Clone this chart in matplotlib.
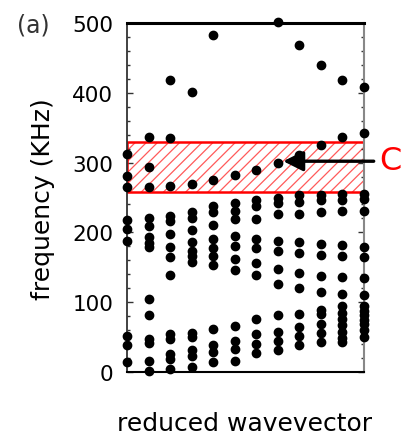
# -*- coding: utf-8 -*-
"""
band diagram, panel (a): frequency vs reduced wavevector with the gap C
"""
import matplotlib as mpl
mpl.use('Agg')
import matplotlib.pyplot as plt
from matplotlib.patches import Rectangle

# reduced wavevector index (12 points across the zone)
wavevector = list(range(12))

f_k0 = [312, 281, 265, 218, 205, 187, 52, 38, 15]
f_k1 = [337, 294, 265, 220, 209, 193, 185, 179, 105, 82, 48, 42, 16, 2]
f_k2 = [419, 335, 267, 224, 217, 198, 179, 165, 139, 54, 48, 26, 19, 5]
f_k3 = [401, 269, 229, 220, 204, 186, 174, 166, 158, 56, 50, 32, 23, 7]
f_k4 = [483, 275, 238, 229, 211, 191, 178, 166, 153, 62, 38, 28, 14]
f_k5 = [282, 242, 231, 219, 195, 181, 162, 146, 66, 44, 33, 16]
f_k6 = [290, 246, 238, 219, 191, 177, 156, 139, 76, 55, 40, 27]
f_k7 = [501, 299, 250, 242, 226, 187, 173, 148, 126, 81, 58, 45, 31]
f_k8 = [468, 311, 254, 244, 227, 186, 171, 142, 120, 83, 64, 51, 38]
f_k9 = [440, 325, 254, 246, 229, 184, 168, 137, 115, 89, 83, 69, 56, 43]
f_k10 = [418, 337, 255, 246, 230, 182, 166, 136, 112, 94, 85, 76, 67, 57, 49, 43]
f_k11 = [409, 343, 255, 248, 230, 179, 165, 135, 110, 95, 88, 81, 74, 69, 60, 50]
freqs = [f_k0, f_k1, f_k2, f_k3, f_k4, f_k5, f_k6, f_k7, f_k8, f_k9, f_k10, f_k11]

# band gap C (KHz) and where the arrow points
gap_lo, gap_hi = 258, 330
arrow_f = 302
yticks = [0, 100, 200, 300, 400, 500]

fig = plt.figure(figsize=(4.05, 4.39), dpi=100)
ax = fig.add_axes([0.3136, 0.1503, 0.5852, 0.795])

# hatched gap region
mpl.rcParams['hatch.linewidth'] = 0.9
ax.add_patch(Rectangle((wavevector[0], gap_lo), wavevector[-1] - wavevector[0],
                       gap_hi - gap_lo, facecolor='white', edgecolor='#ff5a5a',
                       hatch='///', lw=0, zorder=1))
ax.add_patch(Rectangle((wavevector[0], gap_lo), wavevector[-1] - wavevector[0],
                       gap_hi - gap_lo, facecolor='none', edgecolor='red',
                       lw=1.8, zorder=2))

for k, f in zip(wavevector, freqs):
    ax.plot([k] * len(f), f, 'o', color='black', ms=6, mec='black',
            zorder=3, clip_on=False)

ax.annotate('', xy=(7.25, arrow_f), xytext=(11.45, arrow_f),
            arrowprops=dict(arrowstyle='-|>,head_length=0.6,head_width=0.3',
                            color='black', lw=2.4, mutation_scale=20,
                            shrinkA=0, shrinkB=0),
            annotation_clip=False, zorder=4)

ax.set_xlim(wavevector[0], wavevector[-1])
ax.set_ylim(0, 500)
ax.set_xticks([])
ax.set_yticks(yticks)
ax.set_yticks(range(0, 501, 20), minor=True)
ax.tick_params(axis='y', which='both', direction='in', left=True, right=True,
               labelsize=15.5, pad=10, labelcolor='black', color='#333333')
ax.tick_params(axis='y', which='major', length=4, width=1)
ax.tick_params(axis='y', which='minor', length=2.3, width=1)

ax.spines['top'].set_linewidth(2.2)
ax.spines['top'].set_color('black')
ax.spines['left'].set_linewidth(1.3)
ax.spines['left'].set_color('#333333')
ax.spines['bottom'].set_linewidth(1.5)
ax.spines['bottom'].set_color('black')
ax.spines['right'].set_linewidth(1.5)
ax.spines['right'].set_color('#888888')

ax.set_ylabel('frequency (KHz)', fontsize=18, color='black', va='center')
ax.yaxis.set_label_coords(-0.355, 0.497)
ax.set_xlabel('reduced wavevector', fontsize=18, color='black', va='center')
ax.xaxis.set_label_coords(0.494, -0.146)

fig.text(33 / 405, 1 - 25 / 439, '(a)', fontsize=17, color='#333333',
         ha='center', va='center')
fig.text(390 / 405, 1 - 162 / 439, 'C', fontsize=23, color='red',
         ha='center', va='center')

plt.savefig('out.png', dpi=100)
